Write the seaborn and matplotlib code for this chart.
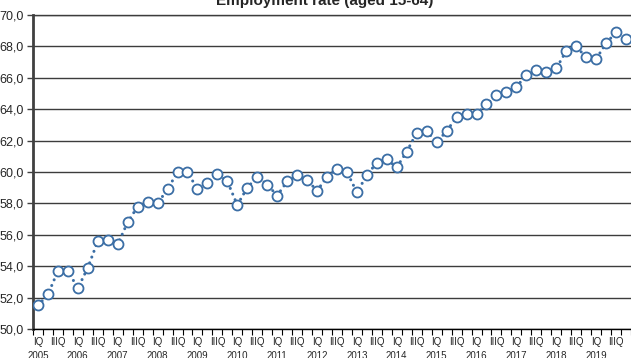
import matplotlib
matplotlib.use("Agg")
import matplotlib.pyplot as plt
import numpy as np
import pandas as pd
import seaborn as sns

# Quarterly employment rate, 2005 Q1 - 2019 Q4
years = list(range(2005, 2020))
quarters = ["IQ", "IIQ", "IIIQ", "IVQ"]
rate = [
    51.5, 52.2, 53.7, 53.7,   # 2005
    52.6, 53.9, 55.6, 55.7,   # 2006
    55.4, 56.8, 57.8, 58.1,   # 2007
    58.0, 58.9, 60.0, 60.0,   # 2008
    58.9, 59.3, 59.9, 59.4,   # 2009
    57.9, 59.0, 59.7, 59.2,   # 2010
    58.5, 59.4, 59.8, 59.5,   # 2011
    58.8, 59.7, 60.2, 60.0,   # 2012
    58.7, 59.8, 60.6, 60.8,   # 2013
    60.3, 61.3, 62.5, 62.6,   # 2014
    61.9, 62.6, 63.5, 63.7,   # 2015
    63.7, 64.3, 64.9, 65.1,   # 2016
    65.4, 66.2, 66.5, 66.4,   # 2017
    66.6, 67.7, 68.0, 67.3,   # 2018
    67.2, 68.2, 68.9, 68.5,   # 2019
]
title = "Employment rate (aged 15-64)"
y_ticks = [50, 52, 54, 56, 58, 60, 62, 64, 66, 68, 70]

df = pd.DataFrame({
    "pos": np.arange(len(rate)),
    "year": [y for y in years for _ in quarters],
    "quarter": quarters * len(years),
    "rate": rate,
})

sns.set_theme(style="white")
plt.rcParams["font.family"] = ["Liberation Sans", "DejaVu Sans"]

W, H = 631, 358
fig = plt.figure(figsize=(W / 100, H / 100), dpi=100)
ax = fig.add_axes([33 / W, 1 - 329 / H, (W - 33) / W, (329 - 15) / H])

line_color = "#3b6ea5"
sns.lineplot(
    data=df, x="pos", y="rate", ax=ax,
    color=line_color, linewidth=2.2,
    linestyle=(0, (0.01, 2.0)), dash_capstyle="round",
    marker="o", markersize=7.2, markerfacecolor="white",
    markeredgecolor=line_color, markeredgewidth=1.3,
    zorder=3,
)

ax.set_xlim(-0.5, len(rate) - 1)
ax.set_ylim(50, 70)

# y axis: comma decimal labels, gridlines every 2 points
ax.set_yticks(y_ticks)
ax.set_yticklabels([f"{v:.1f}".replace(".", ",") for v in y_ticks], fontsize=9)
ax.yaxis.grid(True, color="#3c3c3c", linewidth=1.0)
ax.set_axisbelow(True)
ax.tick_params(axis="y", direction="out", length=4, width=1, color="#404040", pad=3, left=True)

# x axis: tick marks between quarters, labels on every second quarter
major = df["pos"][::2]
labels = [f"{q}\n{y}" if q == "IQ" else q for q, y in zip(df["quarter"][::2], df["year"][::2])]
ax.set_xticks(major)
ax.set_xticklabels(labels, fontsize=7, linespacing=1.5)
ax.set_xticks(np.arange(-0.5, len(rate), 1), minor=True)
ax.tick_params(axis="x", which="major", length=0, pad=6)
ax.tick_params(axis="x", which="minor", direction="out", length=4, width=0.8, color="black", bottom=True)

ax.set_xlabel("")
ax.set_ylabel("")
for side in ["right"]:
    ax.spines[side].set_visible(False)
ax.spines["left"].set_linewidth(2)
ax.spines["left"].set_color("#404040")
ax.spines["top"].set_color("#3c3c3c")
ax.spines["top"].set_linewidth(1)
ax.spines["bottom"].set_color("black")
ax.spines["bottom"].set_linewidth(1)

fig.text(0.515, 0.985, title, ha="center", va="baseline", fontsize=11, fontweight="bold")

fig.savefig("out.png", dpi=100)
